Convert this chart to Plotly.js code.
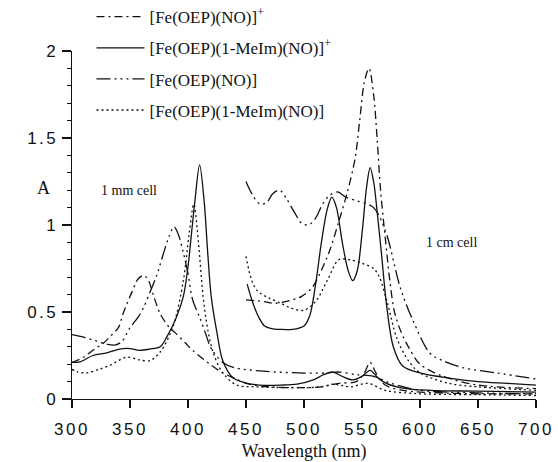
<!DOCTYPE html>
<html><head><meta charset="utf-8">
<script src="https://cdn.plot.ly/plotly-3.0.1.min.js"></script>
<style>
html,body{margin:0;padding:0;background:#fff;}
#chart{width:558px;height:462px;}
.xtick text,.ytick text{letter-spacing:2.5px;}
</style></head><body><div id="chart"></div>
<script>
// Series names (legend)
const seriesNames = ["[Fe(OEP)(NO)]<sup>+</sup>", "[Fe(OEP)(1-MeIm)(NO)]<sup>+</sup>", "[Fe(OEP)(NO)]", "[Fe(OEP)(1-MeIm)(NO)]"];

// 1 mm cell spectra
const s1_mm_wl = [300,310,320,327,333,340,344,352,357,362,366,370,376,384,389,398,404,419,430,440,450,470,500,515,530,545,552,557,562,570,585,600,650,700];
const s1_mm_A  = [0.21,0.24,0.29,0.32,0.36,0.41,0.49,0.62,0.69,0.71,0.68,0.60,0.49,0.41,0.38,0.32,0.28,0.20,0.15,0.12,0.09,0.07,0.065,0.07,0.09,0.10,0.15,0.21,0.15,0.08,0.05,0.04,0.03,0.03];

const s2_mm_wl = [300,307,318,330,341,350,358,367,376,382,390,396,400,403,406,410,414,417,420,425,430,439,451,462,480,494,508,517,525,533,542,550,557,564,571,585,609,650,700];
const s2_mm_A  = [0.21,0.214,0.25,0.265,0.287,0.29,0.28,0.287,0.30,0.36,0.47,0.59,0.76,0.95,1.14,1.345,1.13,0.84,0.59,0.38,0.22,0.12,0.09,0.08,0.08,0.085,0.11,0.14,0.155,0.13,0.11,0.13,0.165,0.12,0.09,0.063,0.05,0.045,0.04];

const s3_mm_wl = [300,310,320,330,337,343,350,357,362,367,373,379,384,388,392,396,400,404,410,415,420,430,440,465,495,520,530,545,560,575,600,650,700];
const s3_mm_A  = [0.37,0.355,0.335,0.315,0.31,0.33,0.41,0.47,0.53,0.61,0.71,0.84,0.94,0.99,0.94,0.84,0.72,0.57,0.47,0.38,0.29,0.21,0.18,0.16,0.15,0.15,0.155,0.14,0.13,0.09,0.05,0.035,0.03];

const s4_mm_wl = [300,305,313,323,333,347,358,367,376,387,396,401,405,409,413,417,422,430,442,460,500,515,525,540,555,570,600,650,700];
const s4_mm_A  = [0.17,0.155,0.15,0.17,0.195,0.24,0.225,0.22,0.27,0.415,0.68,0.95,1.12,0.90,0.59,0.40,0.26,0.15,0.08,0.07,0.065,0.07,0.085,0.07,0.09,0.05,0.03,0.025,0.02];

// 1 cm cell spectra
const s1_cm_wl = [450,465,475,490,498,507,515,522,530,537,544,548,552,556,560,563,566,570,574,578,584,590,600,620,650,700];
const s1_cm_A  = [0.57,0.56,0.55,0.57,0.59,0.64,0.74,0.85,1.02,1.18,1.38,1.60,1.82,1.90,1.75,1.50,1.20,0.93,0.68,0.50,0.38,0.30,0.20,0.13,0.08,0.06];

const s2_cm_wl = [451,456,461,466,472,480,490,500,505,510,515,520,524,528,533,538,542,546,550,554,557,560,563,567,571,577,585,600,625,650,675,700];
const s2_cm_A  = [0.66,0.55,0.47,0.42,0.405,0.40,0.40,0.42,0.48,0.66,0.90,1.09,1.16,1.10,0.90,0.74,0.68,0.74,0.95,1.22,1.33,1.25,1.08,0.82,0.55,0.30,0.19,0.15,0.12,0.10,0.09,0.08];

const s3_cm_wl = [450,455,462,468,473,479,485,492,498,504,510,516,522,529,536,545,555,560,565,572,583,594,609,620,637,666,700];
const s3_cm_A  = [1.25,1.18,1.12,1.13,1.18,1.20,1.15,1.07,1.01,1.00,1.04,1.12,1.17,1.19,1.16,1.14,1.12,1.10,1.05,0.93,0.64,0.45,0.26,0.22,0.18,0.15,0.115];

const s4_cm_wl = [450,455,460,470,480,490,500,510,520,530,540,550,560,565,572,580,590,600,625,650,700];
const s4_cm_A  = [0.82,0.68,0.62,0.58,0.55,0.52,0.51,0.56,0.68,0.80,0.80,0.78,0.75,0.70,0.55,0.35,0.22,0.15,0.09,0.07,0.05];

const xTickVals = [300,350,400,450,500,550,600,650,700];
const yTickVals = [0,0.5,1,1.5,2];
const yTickText = ["0","0.5","1","1.5","2"];

const dashes = ["8px,4px,2px,4px", "solid", "14px,4px,2px,4px,2px,4px,2px,4px", "2px,3px"];
const mmWl = [s1_mm_wl, s2_mm_wl, s3_mm_wl, s4_mm_wl];
const mmA = [s1_mm_A, s2_mm_A, s3_mm_A, s4_mm_A];
const cmWl = [s1_cm_wl, s2_cm_wl, s3_cm_wl, s4_cm_wl];
const cmA = [s1_cm_A, s2_cm_A, s3_cm_A, s4_cm_A];

const traces = [];
for (let i = 0; i < 4; i++) {
  const line = {color: '#111', width: 1.3, dash: dashes[i], shape: 'spline', smoothing: 0.9};
  traces.push({x: mmWl[i], y: mmA[i], type: 'scatter', mode: 'lines', name: seriesNames[i],
    legendgroup: 'g' + i, showlegend: true, line: line, hoverinfo: 'skip'});
  traces.push({x: cmWl[i], y: cmA[i], type: 'scatter', mode: 'lines', name: seriesNames[i] + ' (1 cm)',
    legendgroup: 'g' + i, showlegend: false, line: line, hoverinfo: 'skip'});
}

const serif = 'Liberation Serif, Times New Roman, serif';
const sans = 'Liberation Sans, Arial, sans-serif';

const layout = {
  width: 558, height: 462,
  margin: {l: 72, r: 22, t: 51, b: 63, autoexpand: false},
  paper_bgcolor: '#fff', plot_bgcolor: '#fff',
  showlegend: true,
  legend: {x: 0.042, y: 1.149, xanchor: 'left', yanchor: 'top', bgcolor: 'rgba(0,0,0,0)',
    font: {family: serif, size: 17, color: '#111'}, itemwidth: 48, tracegroupgap: 6,
    traceorder: 'grouped'},
  xaxis: {range: [300, 700], tickvals: xTickVals, ticks: 'outside', ticklen: 8, tickwidth: 1.2,
    tickcolor: '#111', showline: true, linecolor: '#111', linewidth: 1.3, showgrid: false,
    zeroline: false, tickfont: {family: sans, size: 17, color: '#111'}, ticklabelstandoff: 6,
    automargin: false,
    title: {text: 'Wavelength (nm)', font: {family: serif, size: 18, color: '#111'}, standoff: 12}},
  yaxis: {range: [0, 2], tickvals: yTickVals, ticktext: yTickText, ticks: 'outside', ticklen: 9, tickwidth: 1.2,
    tickcolor: '#111', showline: true, linecolor: '#111', linewidth: 1.3, showgrid: false,
    zeroline: false, tickfont: {family: sans, size: 17, color: '#111'}, automargin: false,
    minor: {dtick: 0.1, tick0: 0, ticks: 'outside', ticklen: 4, tickwidth: 1, tickcolor: '#111', showgrid: false}},
  annotations: [
    {x: 349, y: 1.2, xref: 'x', yref: 'y', text: '1 mm cell', showarrow: false,
      font: {family: serif, size: 14, color: '#111'}},
    {x: 627, y: 0.9, xref: 'x', yref: 'y', text: '1 cm cell', showarrow: false,
      font: {family: serif, size: 14, color: '#111'}},
    {x: -0.08, y: 1.21, xref: 'paper', yref: 'y', text: 'A', showarrow: false,
      font: {family: serif, size: 18, color: '#111'}}
  ]
};

Plotly.newPlot('chart', traces, layout, {staticPlot: true, displayModeBar: false});
</script></body></html>
